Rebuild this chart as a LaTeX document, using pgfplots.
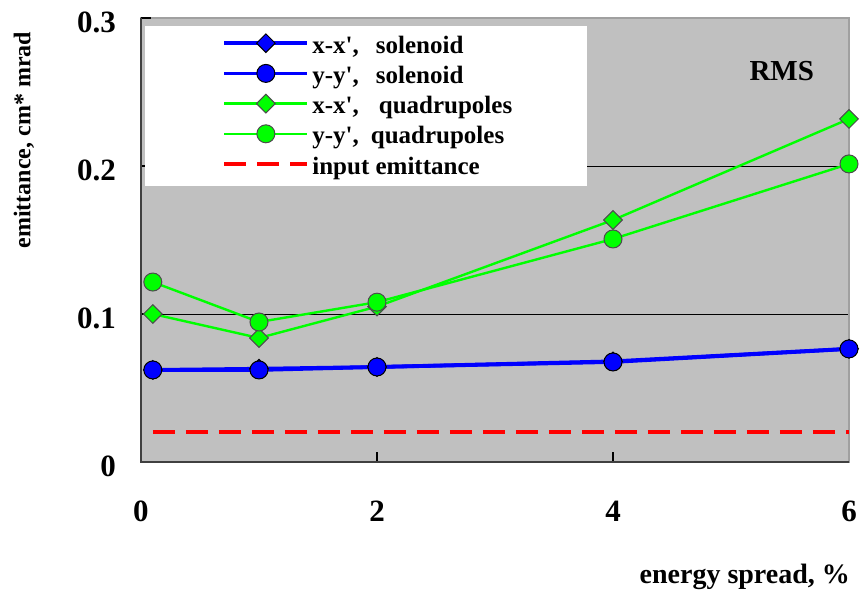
\documentclass[border=0pt]{standalone}
\usepackage{pgfplots}
\pgfplotsset{compat=1.18}
\usepackage{fontspec}
\setmainfont{Liberation Serif}
\definecolor{bgray}{HTML}{C0C0C0}
\definecolor{myblue}{HTML}{0000FF}
\definecolor{mygreen}{HTML}{00FF00}
\definecolor{myred}{HTML}{FF0000}
\definecolor{axdark}{HTML}{404040}
\definecolor{axlight}{HTML}{A0A0A0}
\begin{document}
\begin{tikzpicture}
\begin{axis}[
 scale only axis, width=354pt, height=222pt,
 xmin=0, xmax=6, ymin=0, ymax=0.3,
 clip=false,
 axis background/.style={fill=bgray},
 axis line style={draw=axlight, line width=0.6pt},
 xtick={0,2,4,6}, xticklabels={0,2,4,6},
 ytick={0.1,0.2}, yticklabels={0.1,0.2},
 extra y ticks={0,0.3}, extra y tick labels={0,0.3},
 extra y tick style={grid=none},
 xtick pos=bottom, ytick pos=left, tick align=inside,
 major tick length=5pt,
 tick style={black, line width=0.6pt},
 ymajorgrids, grid style={black, line width=0.5pt},
 ticklabel style={font=\fontsize{15.5}{18}\selectfont\bfseries},
 xticklabel style={yshift=-16pt},
 yticklabel style={xshift=-9pt, yshift=-2pt},
 xlabel={energy spread, \%},
 xlabel style={at={(axis description cs:1.0113,-0.259)}, anchor=east, font=\fontsize{14}{16}\selectfont\bfseries},
 ylabel={emittance, cm* mrad},
 ylabel style={at={(axis description cs:-0.1653,0.725)}, anchor=center, font=\fontsize{12}{14}\selectfont\bfseries},
 legend cell align=left,
 legend style={at={(rel axis cs:0.0056,0.984)}, anchor=north west, draw=none, fill=white,
   inner xsep=0pt, inner ysep=2.3pt, row sep=0pt, column sep=1.5pt,
   font=\fontsize{12.5}{15}\selectfont\bfseries,
   nodes={inner sep=0pt, text height=11.6pt, text depth=3.5pt}},
 legend image code/.code={\path (0pt,0pt) (80pt,0pt);
   \draw[mark repeat=2,mark phase=2,#1] plot coordinates {(38.5pt,1pt) (59.25pt,1pt) (80pt,1pt)};},
]
\addplot[myblue, line width=1.9pt, mark=square*, mark size=3.3pt,
  mark options={rotate=45, fill=myblue, draw=black, line width=0.5pt, solid}]
  coordinates {(0.1,0.0622) (1,0.063) (2,0.0642) (4,0.068) (6,0.0765)};
\addlegendentry{\makebox[137.5pt][l]{x-x\textquotesingle,\hspace{8.5pt}solenoid}}
\addplot[myblue, line width=1.9pt, mark=*, mark size=4.5pt,
  mark options={fill=myblue, draw=black, line width=0.5pt, solid}]
  coordinates {(0.1,0.0622) (1,0.0622) (2,0.0642) (4,0.0676) (6,0.0764)};
\addlegendentry{\makebox[137.5pt][l]{y-y\textquotesingle,\hspace{8.5pt}solenoid}}
\addplot[mygreen, line width=1.2pt, mark=square*, mark size=3.3pt,
  mark options={rotate=45, fill=mygreen, draw=black!70, line width=0.5pt, solid}]
  coordinates {(0.1,0.100) (1,0.0838) (2,0.105) (4,0.1635) (6,0.2318)};
\addlegendentry{\makebox[137.5pt][l]{x-x\textquotesingle,\hspace{10pt}quadrupoles}}
\addplot[mygreen, line width=1.2pt, mark=*, mark size=4.5pt,
  mark options={fill=mygreen, draw=black!70, line width=0.5pt, solid}]
  coordinates {(0.1,0.1216) (1,0.0946) (2,0.108) (4,0.1507) (6,0.2014)};
\addlegendentry{\makebox[137.5pt][l]{y-y\textquotesingle,\hspace{6pt}quadrupoles}}
\addplot[myred, line width=2pt, dash pattern=on 11pt off 5.5pt]
  coordinates {(0.1,0.02) (6,0.02)};
\addlegendentry{\makebox[137.5pt][l]{input emittance}}
\draw[axdark, line width=1pt] (rel axis cs:0,1) -- (rel axis cs:0,0) -- (rel axis cs:1,0);
\node[font=\fontsize{14.5}{16}\selectfont\bfseries] at (axis cs:5.43,0.264) {RMS};
\end{axis}
\pgfresetboundingbox
\path (-70.5pt,-64pt) rectangle (360pt,231pt);
\end{tikzpicture}
\end{document}
